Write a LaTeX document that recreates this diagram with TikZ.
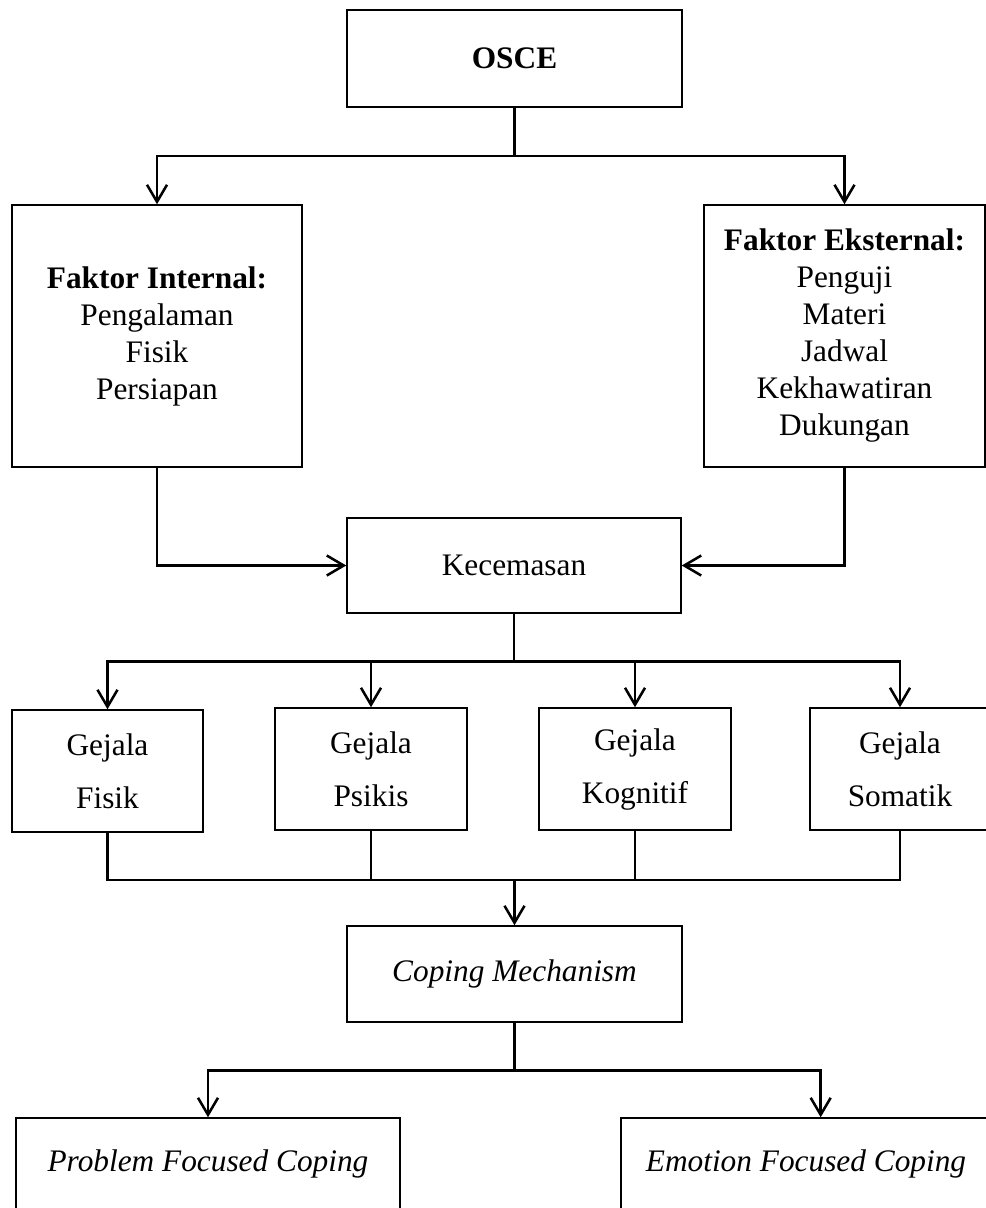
\documentclass[tikz,border=0pt]{standalone}
\usepackage{fontspec}
\setmainfont{Liberation Serif}
\usetikzlibrary{arrows.meta}

\tikzset{
  box/.style={draw, line width=1.1pt, align=center, inner sep=0pt,
              font=\fontsize{23.5}{27.75}\selectfont},
  line/.style={line width=1.9pt},
  arr/.style={line width=1.9pt, -{Straight Barb[length=12.75pt,width=15pt]}}
}

\begin{document}
\begin{tikzpicture}[x=0.75pt, y=-0.75pt]
    \clip (0,0) rectangle (986,1208); % page size of the reference

    % Boxes
    \node[box, minimum width=251pt, minimum height=73pt] (osce) at (514.5,58.5) {\textbf{OSCE}};
    \node[box, minimum width=217.5pt, minimum height=196.5pt] (internal) at (157,336)
        {\textbf{Faktor Internal:}\\Pengalaman\\Fisik\\Persiapan};
    \node[box, minimum width=210.75pt, minimum height=196.5pt] (eksternal) at (844.5,336)
        {\textbf{Faktor Eksternal:}\\Penguji\\Materi\\Jadwal\\Kekhawatiran\\Dukungan};
    \node[box, minimum width=250.5pt, minimum height=71.25pt] (kecemasan) at (514,565.5) {Kecemasan};

    \node[box, minimum width=143.25pt, minimum height=91.5pt] (fisik) at (107.5,771) {Gejala\\[12pt]Fisik};
    \node[box, minimum width=144pt, minimum height=91.5pt] (psikis) at (371,769) {Gejala\\[12pt]Psikis};
    \node[box, minimum width=144pt, minimum height=91.5pt] (kognitif) at (635,769) {Gejala\\[12pt]Kognitif};
    \node[box, minimum width=135pt, minimum height=91.5pt] (somatik) at (900,769) {Gejala\\[12pt]Somatik};

    \node[box, minimum width=251pt, minimum height=72pt] (coping) at (514.5,974) {\textit{Coping Mechanism}};
    \node[box, minimum width=288pt, minimum height=69pt] (problem) at (208,1164) {\textit{Problem Focused Coping}};
    \node[box, minimum width=277.5pt, minimum height=69pt] (emotion) at (806,1164) {\textit{Emotion Focused Coping}};

    % OSCE to the two factors
    \draw[arr] (osce.south) -- ++(0,48) -| (internal.north);
    \draw[arr] (osce.south) ++(0,48) -| (eksternal.north);

    % factors to Kecemasan
    \draw[arr] (internal.south) |- (kecemasan.west);
    \draw[arr] (eksternal.south) |- (kecemasan.east);

    % Kecemasan to the symptoms
    \foreach \g in {fisik, psikis, kognitif, somatik}
        \draw[arr] (kecemasan.south) -- ++(0,48) -| (\g.north);

    % symptoms to Coping Mechanism
    \coordinate (join) at (514.5,880);
    \foreach \g in {fisik, psikis, kognitif, somatik}
        \draw[line] (\g.south) |- (join);
    \draw[arr] (join) -- (coping.north);

    % Coping Mechanism to the two kinds
    \draw[arr] (coping.south) -- ++(0,48) -| (problem.north);
    \draw[arr] (coping.south) ++(0,48) -| ([xshift=11pt]emotion.north);
\end{tikzpicture}
\end{document}
